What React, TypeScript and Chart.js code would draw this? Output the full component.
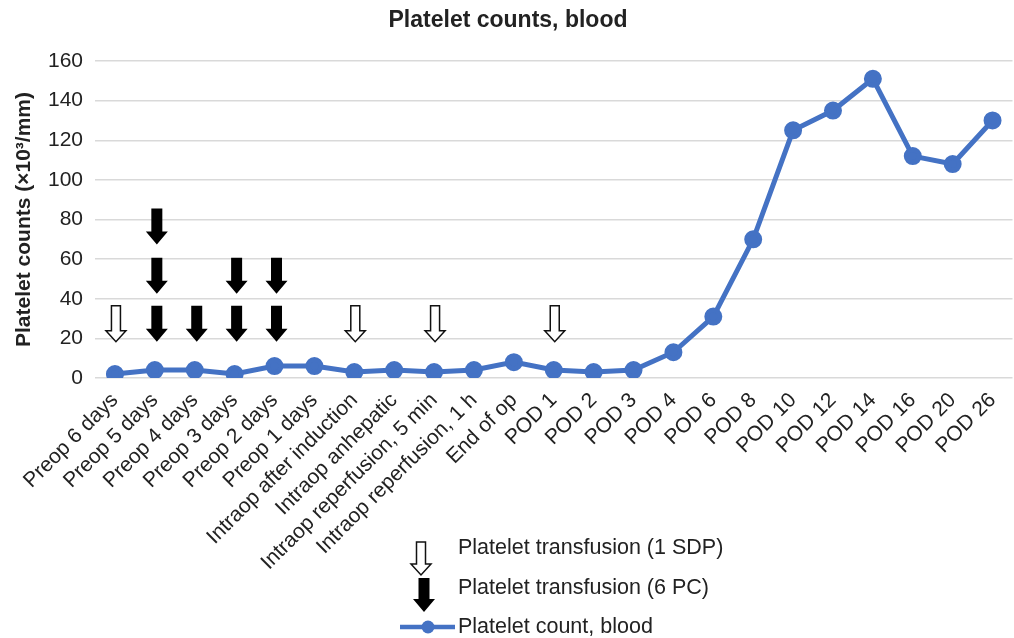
import React, { useEffect, useRef } from "react";
import { Chart, registerables } from "chart.js";

Chart.register(...registerables);

const categories = [
  "Preop 6 days",
  "Preop 5 days",
  "Preop 4 days",
  "Preop 3 days",
  "Preop 2 days",
  "Preop 1 days",
  "Intraop after induction",
  "Intraop anhepatic",
  "Intraop reperfusion, 5 min",
  "Intraop reperfusion, 1 h",
  "End of op",
  "POD 1",
  "POD 2",
  "POD 3",
  "POD 4",
  "POD 6",
  "POD 8",
  "POD 10",
  "POD 12",
  "POD 14",
  "POD 16",
  "POD 20",
  "POD 26",
];

const plateletCounts = [2, 4, 4, 2, 6, 6, 3, 4, 3, 4, 8, 4, 3, 4, 13, 31, 70, 125, 135, 151, 112, 108, 130];

const yTickValues = [0, 20, 40, 60, 80, 100, 120, 140, 160];

// Transfusion markers: category index and value where the arrow starts (tail)
const sdpArrowIndex = [0, 6, 8, 11];
const sdpArrowTop = [36.5, 36.5, 36.5, 36.5];
const pcArrowIndex = [1, 1, 1, 2, 3, 3, 4, 4];
const pcArrowTop = [36.5, 60.7, 85.6, 36.5, 36.5, 60.7, 36.5, 60.7];
const arrowSpan = 18.2;

const chartTitle = "Platelet counts, blood";
const yAxisTitle = "Platelet counts (×10³/mm)";
const legendLabels = ["Platelet transfusion (1 SDP)", "Platelet transfusion (6 PC)", "Platelet count, blood"];

const FONT = '"Liberation Sans", Arial, sans-serif';
const BLUE = "#4472C4";
const TEXT = "#222222";

function drawArrow(
  ctx: CanvasRenderingContext2D,
  cx: number,
  yTop: number,
  yTip: number,
  shaftW: number,
  headW: number,
  headH: number,
  fill: string,
  stroke: string | null
) {
  const yHead = yTip - headH;
  ctx.save();
  ctx.beginPath();
  ctx.moveTo(cx - shaftW / 2, yTop);
  ctx.lineTo(cx + shaftW / 2, yTop);
  ctx.lineTo(cx + shaftW / 2, yHead);
  ctx.lineTo(cx + headW / 2, yHead);
  ctx.lineTo(cx, yTip);
  ctx.lineTo(cx - headW / 2, yHead);
  ctx.lineTo(cx - shaftW / 2, yHead);
  ctx.closePath();
  ctx.fillStyle = fill;
  ctx.fill();
  if (stroke) {
    ctx.strokeStyle = stroke;
    ctx.lineWidth = 1.5;
    ctx.lineJoin = "miter";
    ctx.stroke();
  }
  ctx.restore();
}

const overlayPlugin = {
  id: "overlay",
  afterDatasetsDraw(chart: any) {
    const { ctx, scales } = chart;
    const x = scales.x;
    const y = scales.y;
    sdpArrowIndex.forEach((idx, i) => {
      drawArrow(
        ctx,
        x.getPixelForValue(idx) + 1,
        y.getPixelForValue(sdpArrowTop[i]),
        y.getPixelForValue(sdpArrowTop[i] - arrowSpan),
        9,
        20,
        11,
        "#ffffff",
        "#111111"
      );
    });
    pcArrowIndex.forEach((idx, i) => {
      drawArrow(
        ctx,
        x.getPixelForValue(idx) + 2,
        y.getPixelForValue(pcArrowTop[i]),
        y.getPixelForValue(pcArrowTop[i] - arrowSpan),
        11,
        22,
        13,
        "#000000",
        null
      );
    });
  },
  afterDraw(chart: any) {
    const { ctx } = chart;
    ctx.save();
    // Title
    ctx.font = `bold 23px ${FONT}`;
    ctx.fillStyle = TEXT;
    ctx.textAlign = "center";
    ctx.textBaseline = "middle";
    ctx.fillText(chartTitle, 508, 21);

    // Legend
    ctx.font = `21.5px ${FONT}`;
    ctx.textAlign = "left";
    ctx.textBaseline = "middle";
    ctx.fillStyle = TEXT;
    drawArrow(ctx, 421, 542, 575, 9, 20, 11, "#ffffff", "#111111");
    ctx.fillText(legendLabels[0], 458, 548);
    drawArrow(ctx, 424, 578, 612, 11, 22, 13, "#000000", null);
    ctx.fillText(legendLabels[1], 458, 588);
    ctx.beginPath();
    ctx.moveTo(400, 627);
    ctx.lineTo(455, 627);
    ctx.strokeStyle = BLUE;
    ctx.lineWidth = 4.5;
    ctx.stroke();
    ctx.beginPath();
    ctx.arc(428, 627, 6.5, 0, Math.PI * 2);
    ctx.fillStyle = BLUE;
    ctx.fill();
    ctx.fillStyle = TEXT;
    ctx.fillText(legendLabels[2], 458, 627);
    ctx.restore();
  },
};

export default function App() {
  const canvasRef = useRef<HTMLCanvasElement | null>(null);

  useEffect(() => {
    document.body.style.margin = "0";
    document.body.style.overflow = "hidden";
    const canvas = canvasRef.current;
    if (!canvas) return;
    const chart = new Chart(canvas, {
      type: "line",
      data: {
        labels: categories,
        datasets: [
          {
            label: legendLabels[2],
            data: plateletCounts,
            borderColor: BLUE,
            backgroundColor: BLUE,
            borderWidth: 5,
            pointRadius: 6.5,
            pointHoverRadius: 6.5,
            pointBackgroundColor: BLUE,
            pointBorderColor: BLUE,
            tension: 0,
          },
        ],
      },
      options: {
        animation: false,
        responsive: false,
        maintainAspectRatio: false,
        layout: { padding: { top: 61, left: 0, right: 2, bottom: 0 } },
        plugins: {
          legend: { display: false },
          title: { display: false },
          tooltip: { enabled: false },
        },
        scales: {
          x: {
            type: "category",
            offset: true,
            grid: { display: false, drawTicks: false },
            border: { display: false },
            ticks: {
              autoSkip: false,
              maxRotation: 45,
              minRotation: 45,
              padding: 10,
              color: TEXT,
              font: { family: FONT, size: 21 },
            },
            afterFit: (scale: any) => {
              scale.height = 260;
            },
          },
          y: {
            min: 0,
            max: 160,
            afterBuildTicks: (scale: any) => {
              scale.ticks = yTickValues.map((v) => ({ value: v }));
            },
            grid: { color: "#d9d9d9", lineWidth: 1.5, drawTicks: false },
            border: { display: false },
            ticks: {
              padding: 12,
              color: TEXT,
              font: { family: FONT, size: 21 },
            },
            title: {
              display: true,
              text: yAxisTitle,
              color: TEXT,
              font: { family: FONT, size: 21, weight: "bold" },
              padding: { top: 12, bottom: 0 },
            },
            afterFit: (scale: any) => {
              scale.width = 95;
            },
          },
        },
      },
      plugins: [overlayPlugin],
    });
    return () => chart.destroy();
  }, []);

  return (
    <div style={{ width: 1014, height: 638, overflow: "hidden", background: "#ffffff" }}>
      <canvas ref={canvasRef} width={1024} height={638} style={{ display: "block" }} />
    </div>
  );
}
